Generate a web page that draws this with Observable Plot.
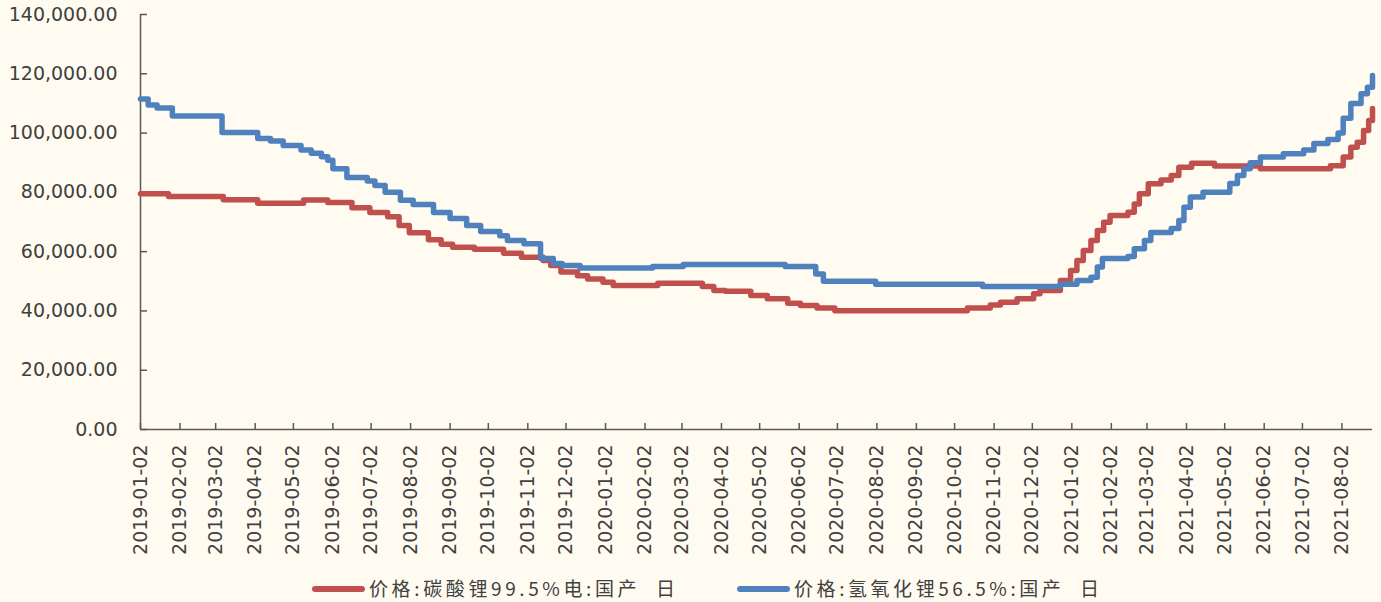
<!DOCTYPE html>
<html><head><meta charset="utf-8">
<script src="https://cdn.jsdelivr.net/npm/d3@7"></script>
<script src="https://cdn.jsdelivr.net/npm/@observablehq/plot@0.6"></script>
<style>
html,body{margin:0;padding:0;background:#fffbf0;}
#chart{position:relative;width:1381px;height:602px;background:#fffbf0;overflow:hidden}
#chart svg{display:block}
</style></head><body><div id="chart"></div>
<script>
const xTickLabels = ["2019-01-02","2019-02-02","2019-03-02","2019-04-02","2019-05-02","2019-06-02","2019-07-02","2019-08-02","2019-09-02","2019-10-02","2019-11-02","2019-12-02","2020-01-02","2020-02-02","2020-03-02","2020-04-02","2020-05-02","2020-06-02","2020-07-02","2020-08-02","2020-09-02","2020-10-02","2020-11-02","2020-12-02","2021-01-02","2021-02-02","2021-03-02","2021-04-02","2021-05-02","2021-06-02","2021-07-02","2021-08-02"];
const yTickValues = [0,20000,40000,60000,80000,100000,120000,140000];
const xDomain = ["2019-01-02","2021-08-26"];

const seriesNames = ["价格:碳酸锂99.5%电:国产  日","价格:氢氧化锂56.5%:国产  日"];
const seriesColors = ["#c0504d","#4f81bd"];

const carbonateDates = ["2019-01-02","2019-01-24","2019-03-08","2019-04-04","2019-05-10","2019-05-29","2019-06-17","2019-07-01","2019-07-15","2019-07-24","2019-08-01","2019-08-16","2019-08-26","2019-09-04","2019-09-21","2019-10-14","2019-10-28","2019-11-14","2019-11-20","2019-11-28","2019-12-11","2019-12-19","2019-12-31","2020-01-08","2020-02-12","2020-03-18","2020-03-27","2020-04-05","2020-04-25","2020-05-08","2020-05-24","2020-06-03","2020-06-16","2020-06-30","2020-10-12","2020-10-30","2020-11-07","2020-11-20","2020-12-03","2020-12-08","2020-12-24","2021-01-01","2021-01-06","2021-01-11","2021-01-17","2021-01-22","2021-01-27","2021-02-01","2021-02-15","2021-02-20","2021-02-24","2021-03-03","2021-03-13","2021-03-21","2021-03-27","2021-04-06","2021-04-24","2021-05-30","2021-07-24","2021-08-03","2021-08-09","2021-08-14","2021-08-19","2021-08-23","2021-08-26"];
const carbonateValues = [79500,78600,77500,76300,77400,76600,74800,73200,71800,68800,66400,64000,62500,61500,60800,59500,58100,57000,55300,53100,51900,50800,49700,48600,49300,48200,46900,46600,45200,44100,42600,41800,41000,40100,41000,42000,42900,44100,45800,46900,50300,53600,57000,60400,63800,67100,69900,72200,73300,76100,79500,82900,84200,85700,88500,89800,88900,88000,89000,91900,95200,96900,100900,104200,108300];

const hydroxideDates = ["2019-01-02","2019-01-08","2019-01-15","2019-01-27","2019-03-07","2019-04-04","2019-04-14","2019-04-24","2019-05-08","2019-05-16","2019-05-24","2019-05-29","2019-06-02","2019-06-13","2019-06-29","2019-07-05","2019-07-13","2019-07-25","2019-08-04","2019-08-20","2019-09-02","2019-09-15","2019-09-26","2019-10-11","2019-10-17","2019-10-30","2019-11-12","2019-11-22","2019-11-29","2019-12-13","2020-02-08","2020-03-03","2020-05-22","2020-06-15","2020-06-21","2020-08-01","2020-10-24","2020-12-24","2021-01-06","2021-01-17","2021-01-22","2021-01-26","2021-02-15","2021-02-20","2021-02-28","2021-03-05","2021-03-21","2021-03-27","2021-03-31","2021-04-05","2021-04-15","2021-05-06","2021-05-12","2021-05-17","2021-05-22","2021-05-30","2021-06-17","2021-07-03","2021-07-11","2021-07-22","2021-07-30","2021-08-03","2021-08-09","2021-08-17","2021-08-22","2021-08-26"];
const hydroxideValues = [111500,109500,108500,105800,100200,98200,97300,95800,94300,93200,92000,90800,88000,85000,83800,82300,80000,77300,75900,73200,71200,68800,66800,65400,63800,62700,57700,56000,55300,54500,55000,55700,55000,52500,50000,49000,48200,49000,50300,51400,54800,57700,58400,61000,63800,66500,67800,70500,75000,78400,80000,83000,85700,88000,90000,91900,93000,94300,96500,97800,100000,105000,110000,113300,115500,119400];

const parse = d3.utcParse("%Y-%m-%d");
const carbonate = carbonateDates.map((d,i)=>({date: parse(d), value: carbonateValues[i]}));
const hydroxide = hydroxideDates.map((d,i)=>({date: parse(d), value: hydroxideValues[i]}));
const xTicks = xTickLabels.map(parse);
const x0 = parse(xDomain[0]);
const axisColor = "#595959";
const textColor = "#404040";

const plot = Plot.plot({
  width: 1381, height: 570,
  marginTop: 14, marginBottom: 141, marginLeft: 140, marginRight: 9,
  style: {background: "transparent", fontFamily: "DejaVu Sans", fontSize: "19px", color: textColor},
  x: {type: "utc", domain: xDomain.map(parse)},
  y: {domain: [0, 140000]},
  marks: [
    Plot.ruleX([x0], {y1: 0, y2: 140000, stroke: axisColor, strokeWidth: 1.5}),
    Plot.ruleY([0], {stroke: axisColor, strokeWidth: 1.5}),
    Plot.axisY(yTickValues, {tickSize: 0, tickPadding: 23, tickFormat: d3.format(",.2f"), label: null}),
    Plot.axisY(yTickValues, {tickSize: -7, tickFormat: () => "", label: null, stroke: axisColor, strokeWidth: 1.5}),
    Plot.axisX(xTicks, {tickSize: 0, tickPadding: 15, tickRotate: -90, tickFormat: d3.utcFormat("%Y-%m-%d"), label: null}),
    Plot.axisX(xTicks, {tickSize: -6, tickFormat: () => "", label: null, stroke: axisColor, strokeWidth: 1.5}),
    Plot.line(carbonate, {x: "date", y: "value", stroke: seriesColors[0], strokeWidth: 5.5, curve: "step-after", strokeLinecap: "round", strokeLinejoin: "round"}),
    Plot.line(hydroxide, {x: "date", y: "value", stroke: seriesColors[1], strokeWidth: 5.5, curve: "step-after", strokeLinecap: "round", strokeLinejoin: "round"})
  ]
});
const chart = document.getElementById("chart");
chart.appendChild(plot);

// legend below the plot
const legendItems = [
  {name: seriesNames[0], color: seriesColors[0], x: 312, textLen: 306},
  {name: seriesNames[1], color: seriesColors[1], x: 737, textLen: 305}
];
const leg = d3.create("svg").attr("width", 1381).attr("height", 32);
for (const it of legendItems) {
  leg.append("line").attr("x1", it.x + 3).attr("x2", it.x + 50).attr("y1", 19).attr("y2", 19)
    .attr("stroke", it.color).attr("stroke-width", 6).attr("stroke-linecap", "round");
  leg.append("text").attr("x", it.x + 57).attr("y", 26)
    .attr("font-family", "Noto Sans CJK SC").attr("font-size", 19).attr("fill", textColor)
    .attr("textLength", it.textLen).attr("lengthAdjust", "spacing")
    .attr("xml:space", "preserve").style("white-space", "pre").text(it.name);
}
chart.appendChild(leg.node());
</script>
</body></html>
